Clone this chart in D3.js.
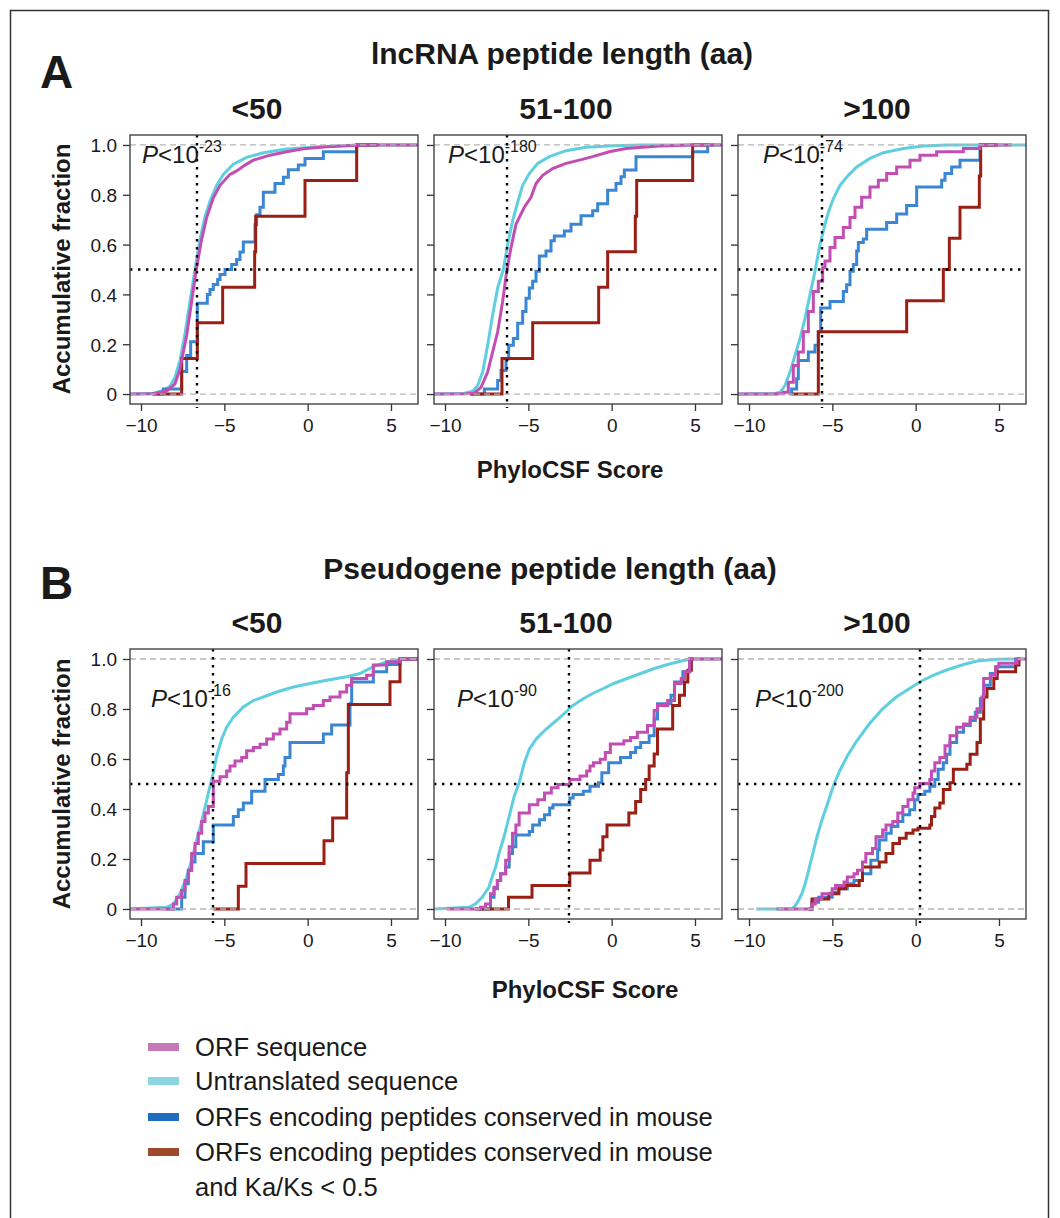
<!DOCTYPE html>
<html>
<head>
<meta charset="utf-8">
<script src="https://cdn.jsdelivr.net/npm/d3@7"></script>
<style>
  body { margin: 0; background: #fff; }
  text { font-family: "Liberation Sans", Arial, sans-serif; fill: #1a1a1a; }
</style>
</head>
<body>
<svg id="chart"></svg>
<script>
// ----- data: [PhyloCSF score, cumulative fraction] -----
// lncRNA panels
const a1Untranslated = [[-10.66,0],[-9.26,0.003],[-8.66,0.014],[-8.26,0.031],[-7.96,0.068],[-7.66,0.135],[-7.36,0.243],[-7.06,0.372],[-6.76,0.5],[-6.46,0.622],[-6.16,0.712],[-5.86,0.774],[-5.46,0.838],[-5.06,0.882],[-4.46,0.923],[-3.66,0.95],[-2.66,0.969],[-1.26,0.984],[0.74,0.993],[2.74,0.999],[3.94,1],[6.62,1]];
const a1Orf = [[-10.66,0],[-9.26,0.001],[-8.46,0.012],[-7.96,0.041],[-7.66,0.101],[-7.26,0.236],[-6.96,0.372],[-6.7,0.493],[-6.36,0.622],[-6.06,0.709],[-5.66,0.788],[-5.26,0.838],[-4.66,0.882],[-4.26,0.896],[-3.76,0.919],[-3.26,0.939],[-2.26,0.959],[-1.26,0.973],[-0.26,0.985],[1.14,0.993],[2.94,0.999],[4.34,1],[6.62,1]];
const a1Mouse = [[-9.3,0],[-8.66,0.02],[-7.56,0.09],[-7.26,0.155],[-7.02,0.21],[-6.62,0.365],[-6.02,0.40],[-5.86,0.42],[-5.66,0.44],[-5.4,0.46],[-5.26,0.48],[-4.96,0.50],[-4.56,0.52],[-4.26,0.54],[-4.06,0.57],[-3.86,0.61],[-3.16,0.68],[-3.06,0.72],[-2.86,0.75],[-2.66,0.81],[-1.96,0.845],[-1.46,0.87],[-1.16,0.9],[-0.56,0.92],[-0.16,0.946],[0.94,0.973],[2.94,1],[4.2,1]];
const a1KaKs = [[-9.3,0],[-7.56,0.143],[-6.62,0.286],[-5.1,0.429],[-3.18,0.571],[-3.12,0.714],[-0.16,0.857],[2.94,1],[4.2,1]];

const a2Untranslated = [[-10.66,0],[-8.9,0.002],[-8.34,0.011],[-8.04,0.034],[-7.74,0.088],[-7.44,0.196],[-7.14,0.318],[-6.84,0.426],[-6.5,0.5],[-6.24,0.601],[-5.94,0.696],[-5.64,0.77],[-5.34,0.838],[-4.94,0.885],[-4.44,0.926],[-3.74,0.953],[-2.74,0.977],[-1.54,0.991],[0.06,0.997],[1.86,1],[6.62,1]];
const a2Orf = [[-10.66,0],[-8.7,0.001],[-8.24,0.004],[-7.84,0.027],[-7.44,0.088],[-7.14,0.169],[-6.84,0.25],[-6.54,0.372],[-6.3,0.493],[-6.04,0.588],[-5.74,0.682],[-5.54,0.709],[-5.24,0.75],[-4.84,0.79],[-4.54,0.845],[-4.14,0.878],[-3.54,0.905],[-2.74,0.926],[-1.94,0.939],[-1.14,0.953],[-0.14,0.973],[0.86,0.986],[2.86,0.996],[4.86,1],[6.62,1]];
const a2Mouse = [[-8.5,0],[-7.64,0.02],[-6.84,0.054],[-6.64,0.095],[-6.34,0.142],[-6.18,0.196],[-5.9,0.223],[-5.64,0.284],[-5.34,0.331],[-5.14,0.385],[-4.94,0.426],[-4.74,0.453],[-4.54,0.493],[-4.34,0.554],[-3.94,0.574],[-3.64,0.615],[-3.44,0.635],[-2.84,0.655],[-2.44,0.682],[-1.84,0.716],[-1.14,0.736],[-0.84,0.764],[-0.24,0.818],[0.26,0.845],[0.56,0.872],[0.76,0.899],[1.46,0.953],[4.86,0.973],[5.76,1],[6.2,1]];
const a2KaKs = [[-8.5,0],[-6.58,0.143],[-4.74,0.286],[-0.78,0.429],[-0.24,0.571],[1.42,0.714],[1.5,0.857],[4.86,1],[5.8,1]];

const a3Untranslated = [[-10.66,0],[-8.5,0.001],[-8.14,0.007],[-7.84,0.034],[-7.54,0.088],[-7.24,0.155],[-6.94,0.223],[-6.64,0.304],[-6.34,0.399],[-6.04,0.493],[-5.78,0.588],[-5.54,0.655],[-5.24,0.73],[-4.94,0.784],[-4.54,0.838],[-4.04,0.878],[-3.54,0.912],[-2.74,0.946],[-1.94,0.969],[-0.74,0.986],[0.46,0.996],[1.86,1],[6.62,1]];
const a3Orf = [[-10.66,0],[-8.3,0.001],[-7.94,0.007],[-7.64,0.047],[-7.34,0.115],[-7.04,0.169],[-6.74,0.25],[-6.44,0.331],[-6.14,0.412],[-5.84,0.453],[-5.58,0.507],[-5.44,0.534],[-5.14,0.588],[-4.84,0.628],[-4.34,0.669],[-3.94,0.709],[-3.64,0.75],[-3.24,0.79],[-2.74,0.831],[-2.24,0.858],[-1.74,0.885],[-1.14,0.912],[-0.34,0.939],[0.26,0.959],[1.26,0.973],[2.86,0.986],[3.86,1],[5.76,1]];
const a3Mouse = [[-7.6,0],[-7.44,0.02],[-7.14,0.061],[-7.04,0.135],[-6.44,0.169],[-6.04,0.196],[-5.84,0.25],[-5.7,0.345],[-5.14,0.372],[-4.34,0.412],[-4.14,0.439],[-3.94,0.493],[-3.74,0.52],[-3.54,0.574],[-3.44,0.608],[-3.14,0.622],[-2.94,0.662],[-1.74,0.689],[-1.14,0.723],[-0.54,0.757],[0.06,0.831],[1.56,0.858],[1.76,0.885],[2.16,0.912],[2.66,0.939],[3.86,1],[4.9,1]];
const a3KaKs = [[-7.4,0],[-5.84,0.25],[-0.54,0.375],[1.66,0.5],[2.02,0.625],[2.66,0.75],[3.82,0.875],[3.9,1],[4.9,1]];

// pseudogene panels
const b1Untranslated = [[-10.66,0],[-8.46,0.007],[-8.06,0.02],[-7.66,0.061],[-7.26,0.128],[-6.96,0.195],[-6.66,0.276],[-6.36,0.35],[-6.1,0.424],[-5.86,0.491],[-5.66,0.545],[-5.46,0.612],[-5.16,0.68],[-4.86,0.727],[-4.46,0.767],[-3.86,0.808],[-3.26,0.834],[-2.66,0.848],[-1.86,0.868],[-0.86,0.888],[0.14,0.902],[1.14,0.915],[2.34,0.929],[3.14,0.942],[3.94,0.969],[4.74,0.989],[5.74,1],[6.62,1]];
const b1Orf = [[-10.66,0],[-8.06,0.02],[-7.86,0.047],[-7.56,0.074],[-7.36,0.114],[-7.16,0.155],[-6.96,0.222],[-6.76,0.262],[-6.56,0.303],[-6.36,0.35],[-6.16,0.384],[-5.96,0.41],[-5.66,0.511],[-5.26,0.529],[-4.86,0.552],[-4.66,0.572],[-4.36,0.592],[-3.96,0.606],[-3.66,0.633],[-3.26,0.646],[-2.86,0.659],[-2.46,0.68],[-2.06,0.7],[-1.66,0.72],[-1.26,0.747],[-1.06,0.781],[-0.06,0.801],[0.34,0.814],[0.94,0.834],[1.34,0.848],[1.94,0.868],[2.34,0.895],[2.64,0.922],[3.54,0.935],[3.94,0.976],[4.74,0.989],[5.54,1],[6.62,1]];
const b1Mouse = [[-8.5,0],[-7.56,0.047],[-7.36,0.101],[-7.16,0.155],[-6.96,0.188],[-6.76,0.222],[-6.26,0.269],[-5.66,0.336],[-4.46,0.37],[-4.16,0.397],[-3.86,0.424],[-3.36,0.471],[-2.56,0.518],[-1.76,0.538],[-1.46,0.572],[-1.36,0.606],[-1.06,0.666],[0.94,0.7],[1.44,0.736],[2.54,0.821],[2.64,0.908],[3.94,0.949],[4.74,0.978],[5.54,1],[6.62,1]];
const b1KaKs = [[-5.66,0],[-4.16,0.091],[-3.7,0.182],[0.98,0.273],[1.5,0.364],[2.34,0.545],[2.44,0.818],[4.94,0.909],[5.54,1],[6.62,1]];

const b2Untranslated = [[-10.66,0],[-8.58,0.007],[-8.18,0.02],[-7.77,0.047],[-7.37,0.087],[-7.17,0.128],[-6.96,0.168],[-6.76,0.222],[-6.46,0.289],[-6.15,0.37],[-5.85,0.451],[-5.55,0.505],[-5.24,0.585],[-4.94,0.639],[-4.53,0.68],[-3.93,0.72],[-3.32,0.754],[-2.71,0.79],[-2.31,0.815],[-1.7,0.841],[-1.09,0.864],[-0.49,0.882],[0.12,0.902],[0.93,0.922],[1.74,0.942],[2.55,0.962],[3.36,0.978],[4.17,0.992],[4.78,1],[6.62,1]];
const b2Orf = [[-9.9,0],[-7.87,0.007],[-7.57,0.02],[-7.27,0.061],[-7.06,0.087],[-6.86,0.114],[-6.66,0.141],[-6.36,0.195],[-6.15,0.249],[-5.95,0.303],[-5.75,0.336],[-5.55,0.384],[-4.94,0.417],[-4.43,0.437],[-4.03,0.464],[-3.62,0.485],[-3.22,0.498],[-2.51,0.518],[-1.9,0.532],[-1.5,0.552],[-1.3,0.572],[-1.09,0.585],[-0.69,0.599],[-0.38,0.626],[-0.08,0.66],[0.73,0.673],[1.13,0.686],[1.54,0.707],[2.15,0.734],[2.55,0.794],[2.75,0.814],[3.36,0.834],[3.77,0.902],[4.17,0.922],[4.37,0.949],[4.68,1],[6.62,1]];
const b2Mouse = [[-8.0,0],[-7.27,0.047],[-7.06,0.081],[-6.86,0.114],[-6.66,0.141],[-6.36,0.168],[-6.15,0.222],[-5.95,0.249],[-5.75,0.296],[-4.94,0.31],[-4.74,0.336],[-4.33,0.357],[-4.03,0.377],[-3.72,0.404],[-3.52,0.417],[-2.51,0.444],[-2.31,0.458],[-1.7,0.471],[-1.3,0.491],[-0.79,0.505],[-0.59,0.545],[-0.18,0.585],[0.53,0.606],[1.13,0.626],[1.44,0.646],[1.74,0.666],[2.25,0.693],[2.55,0.76],[2.75,0.821],[3.56,0.855],[3.77,0.908],[4.27,0.949],[4.68,1],[4.9,1]];
const b2KaKs = [[-8.2,0],[-6.19,0.047],[-4.78,0.094],[-2.51,0.144],[-1.3,0.195],[-0.69,0.236],[-0.53,0.289],[-0.28,0.336],[1.03,0.384],[1.44,0.43],[1.74,0.478],[2.04,0.518],[2.25,0.572],[2.55,0.62],[2.75,0.72],[3.66,0.814],[4.07,0.855],[4.37,0.908],[4.57,0.955],[4.78,1],[4.9,1]];

const b3Untranslated = [[-9.56,0],[-7.43,0],[-7.23,0.013],[-7.03,0.034],[-6.83,0.061],[-6.63,0.101],[-6.42,0.155],[-6.22,0.209],[-5.92,0.289],[-5.62,0.357],[-5.41,0.397],[-5.21,0.437],[-4.91,0.498],[-4.51,0.559],[-4.1,0.612],[-3.6,0.666],[-2.79,0.74],[-1.98,0.801],[-1.17,0.848],[-0.36,0.882],[0.24,0.908],[1.05,0.935],[1.86,0.956],[2.87,0.978],[3.68,0.992],[4.89,0.999],[6.1,1]];
const b3Orf = [[-8.34,0],[-6.22,0.02],[-6.02,0.04],[-5.62,0.061],[-5.01,0.081],[-4.81,0.094],[-4.3,0.108],[-4.1,0.128],[-3.7,0.141],[-3.49,0.155],[-3.19,0.188],[-2.99,0.222],[-2.59,0.242],[-2.38,0.289],[-1.98,0.316],[-1.78,0.336],[-1.37,0.35],[-1.07,0.384],[-0.77,0.41],[-0.46,0.437],[-0.16,0.464],[-0.06,0.485],[0.24,0.502],[0.85,0.518],[0.95,0.552],[1.15,0.585],[1.45,0.606],[1.76,0.653],[2.06,0.693],[2.46,0.727],[2.87,0.74],[3.27,0.767],[3.68,0.801],[3.98,0.848],[4.08,0.922],[4.48,0.935],[4.79,0.969],[4.99,0.983],[6.1,1],[6.62,1]];
const b3Mouse = [[-6.42,0],[-6.22,0.027],[-5.82,0.047],[-5.01,0.067],[-4.61,0.081],[-4.1,0.101],[-3.7,0.114],[-3.19,0.141],[-2.69,0.195],[-2.28,0.236],[-2.18,0.276],[-1.78,0.303],[-1.47,0.33],[-1.07,0.35],[-0.77,0.377],[-0.36,0.397],[-0.06,0.437],[0.14,0.458],[0.55,0.471],[0.85,0.491],[1.15,0.518],[1.35,0.559],[1.66,0.585],[1.86,0.619],[2.06,0.666],[2.46,0.707],[2.87,0.734],[3.27,0.754],[3.58,0.787],[3.88,0.841],[4.08,0.895],[4.48,0.942],[4.89,0.969],[6.0,1],[6.3,1]];
const b3KaKs = [[-6.42,0],[-6.22,0.04],[-5.21,0.061],[-4.61,0.081],[-4.2,0.094],[-3.39,0.114],[-3.19,0.168],[-2.18,0.188],[-1.78,0.222],[-1.37,0.262],[-0.97,0.283],[-0.57,0.303],[-0.16,0.316],[0.14,0.323],[0.85,0.336],[0.95,0.37],[1.15,0.404],[1.45,0.424],[1.66,0.478],[2.06,0.505],[2.26,0.559],[3.07,0.579],[3.27,0.619],[3.68,0.666],[3.88,0.76],[4.08,0.848],[4.28,0.882],[4.69,0.922],[4.89,0.949],[6.0,0.976],[6.2,1],[6.3,1]];

const lengthBins = ["<50", "51-100", ">100"];
const medianA = [-6.64, -6.28, -5.62];
const medianB = [-5.68, -2.56, 0.26];
const pExpA = ["-23", "-180", "-74"];
const pExpB = ["-16", "-90", "-200"];
const xTicks = [-10, -5, 0, 5];
const yTicks = [0, 0.2, 0.4, 0.6, 0.8, 1.0];
const legendLabels = ["ORF sequence", "Untranslated sequence", "ORFs encoding peptides conserved in mouse", "ORFs encoding peptides conserved in mouse"];

const width = 1060,
  height = 1218;

const lineColor = { untr: "#5fcfe0", orf: "#c24db3", mouse: "#3b86d2", kaks: "#9a1f15" };
const swatchColor = ["#c679b8", "#8bd6e2", "#1f6dbf", "#a0482a"];

const svg = d3.select("#chart").attr("width", width).attr("height", height);

// outer frame
svg.append("rect")
  .attr("x", 10.5).attr("y", 10.5)
  .attr("width", 1038).attr("height", 1240)
  .attr("fill", "none").attr("stroke", "#333").attr("stroke-width", 1.5);

const boxW = 288;
const boxLefts = [130, 434, 738];

const x = d3.scaleLinear().domain([-10.66, 6.62]).range([0, boxW]);

////////////////////////////////////////////////////////////
//////////////          ONE PANEL             //////////////
////////////////////////////////////////////////////////////
function panel(left, top, boxH, series, median, pExp, pOff, pBase, stepOrf, showY) {
  const y = d3.scaleLinear().domain([-0.04, 1.04]).range([boxH, 0]);
  const g = svg.append("g").attr("transform", "translate(" + left + "," + top + ")");

  const clip = "clip" + left + "_" + top;
  g.append("clipPath").attr("id", clip)
    .append("rect").attr("width", boxW).attr("height", boxH);

  const curves = g.append("g").attr("clip-path", "url(#" + clip + ")");
  const order = [["untr", false], ["mouse", true], ["kaks", true], ["orf", stepOrf]];
  order.forEach(([key, step]) => {
    const line = d3.line()
      .x(d => x(d[0]))
      .y(d => y(d[1]))
      .curve(step ? d3.curveStepAfter : d3.curveLinear);
    curves.append("path")
      .datum(series[key])
      .attr("d", line)
      .attr("fill", "none")
      .attr("stroke", lineColor[key])
      .attr("stroke-width", 3)
      .attr("stroke-linejoin", "miter");
  });

  // reference lines
  [0, 1].forEach(v => {
    g.append("line")
      .attr("x1", 0).attr("x2", boxW)
      .attr("y1", y(v)).attr("y2", y(v))
      .attr("stroke", "#b5b5b5").attr("stroke-width", 1.3)
      .attr("stroke-dasharray", "6,4");
  });
  g.append("line")
    .attr("x1", 0).attr("x2", boxW)
    .attr("y1", y(0.5)).attr("y2", y(0.5))
    .attr("stroke", "#000").attr("stroke-width", 2.4)
    .attr("stroke-dasharray", "2.4,5.6");
  g.append("line")
    .attr("x1", x(median)).attr("x2", x(median))
    .attr("y1", 0).attr("y2", boxH + 4)
    .attr("stroke", "#000").attr("stroke-width", 2.4)
    .attr("stroke-dasharray", "2.4,5.6");

  // box
  g.append("rect")
    .attr("width", boxW).attr("height", boxH)
    .attr("fill", "none").attr("stroke", "#444").attr("stroke-width", 1.4);

  // axes
  const xAxis = g.append("g")
    .attr("transform", "translate(0," + boxH + ")")
    .call(d3.axisBottom(x).tickValues(xTicks).tickSize(7).tickPadding(5).tickFormat(d3.format("d")));
  const yAxis = g.append("g")
    .call(d3.axisLeft(y).tickValues(yTicks).tickSize(7).tickPadding(6)
      .tickFormat(d => (showY ? (d === 0 ? "0" : d.toFixed(1)) : "")));
  [xAxis, yAxis].forEach(a => {
    a.select(".domain").remove();
    a.selectAll(".tick line").attr("stroke", "#333").attr("stroke-width", 1.3);
    a.selectAll(".tick text")
      .attr("fill", "#1a1a1a")
      .style("font-family", "'Liberation Sans', Arial, sans-serif")
      .style("font-size", "19px");
  });
  xAxis.selectAll(".tick text").attr("dy", "0.85em");
  yAxis.selectAll(".tick text").attr("dy", "0.36em");

  // p value
  const pt = g.append("text")
    .attr("x", pOff).attr("y", pBase)
    .style("font-size", "24px");
  pt.append("tspan").style("font-style", "italic").text("P");
  pt.append("tspan").text("<10");
  pt.append("tspan").attr("dy", -11).style("font-size", "16px").text(pExp);
}

const setA = [
  { untr: a1Untranslated, orf: a1Orf, mouse: a1Mouse, kaks: a1KaKs },
  { untr: a2Untranslated, orf: a2Orf, mouse: a2Mouse, kaks: a2KaKs },
  { untr: a3Untranslated, orf: a3Orf, mouse: a3Mouse, kaks: a3KaKs }
];
const setB = [
  { untr: b1Untranslated, orf: b1Orf, mouse: b1Mouse, kaks: b1KaKs },
  { untr: b2Untranslated, orf: b2Orf, mouse: b2Mouse, kaks: b2KaKs },
  { untr: b3Untranslated, orf: b3Orf, mouse: b3Mouse, kaks: b3KaKs }
];
const pOffA = [12, 14, 25],
  pOffB = [21, 23, 17];

setA.forEach((s, i) => panel(boxLefts[i], 135, 269, s, medianA[i], pExpA[i], pOffA[i], 28, i === 2, i === 0));
setB.forEach((s, i) => panel(boxLefts[i], 649, 270, s, medianB[i], pExpB[i], pOffB[i], 58, true, i === 0));

////////////////////////////////////////////////////////////
//////////////          TITLES                //////////////
////////////////////////////////////////////////////////////
function bold(txt, xPos, yPos, size, anchor) {
  return svg.append("text")
    .attr("x", xPos).attr("y", yPos)
    .attr("text-anchor", anchor || "middle")
    .style("font-weight", "bold")
    .style("font-size", size + "px")
    .text(txt);
}

bold("A", 40, 88, 46, "start");
bold("B", 40, 599, 46, "start");
bold("lncRNA peptide length (aa)", 562, 64, 30);
bold("Pseudogene peptide length (aa)", 550, 579, 30);
const binX = [257, 566, 877];
lengthBins.forEach((b, i) => {
  bold(b, binX[i], 119, 30);
  bold(b, binX[i], 633, 30);
});
bold("PhyloCSF Score", 570, 478, 24);
bold("PhyloCSF Score", 585, 998, 24);

svg.append("text")
  .attr("transform", "translate(70,269) rotate(-90)")
  .attr("text-anchor", "middle")
  .style("font-weight", "bold").style("font-size", "24px")
  .text("Accumulative fraction");
svg.append("text")
  .attr("transform", "translate(70,784) rotate(-90)")
  .attr("text-anchor", "middle")
  .style("font-weight", "bold").style("font-size", "24px")
  .text("Accumulative fraction");

////////////////////////////////////////////////////////////
//////////////          LEGEND                //////////////
////////////////////////////////////////////////////////////
const legendY = [1047, 1081, 1117, 1152];
const legend = svg.append("g");
legend.selectAll("rect")
  .data(legendLabels)
  .enter()
  .append("rect")
  .attr("x", 148)
  .attr("y", (d, i) => legendY[i] - 4)
  .attr("width", 31)
  .attr("height", 8)
  .attr("fill", (d, i) => swatchColor[i]);
legend.selectAll("text")
  .data(legendLabels)
  .enter()
  .append("text")
  .attr("x", 195)
  .attr("y", (d, i) => legendY[i] + 9)
  .style("font-size", "25.6px")
  .text(d => d);
legend.append("text")
  .attr("x", 195).attr("y", 1187 + 9)
  .style("font-size", "25.6px")
  .text("and Ka/Ks < 0.5");
</script>
</body>
</html>
